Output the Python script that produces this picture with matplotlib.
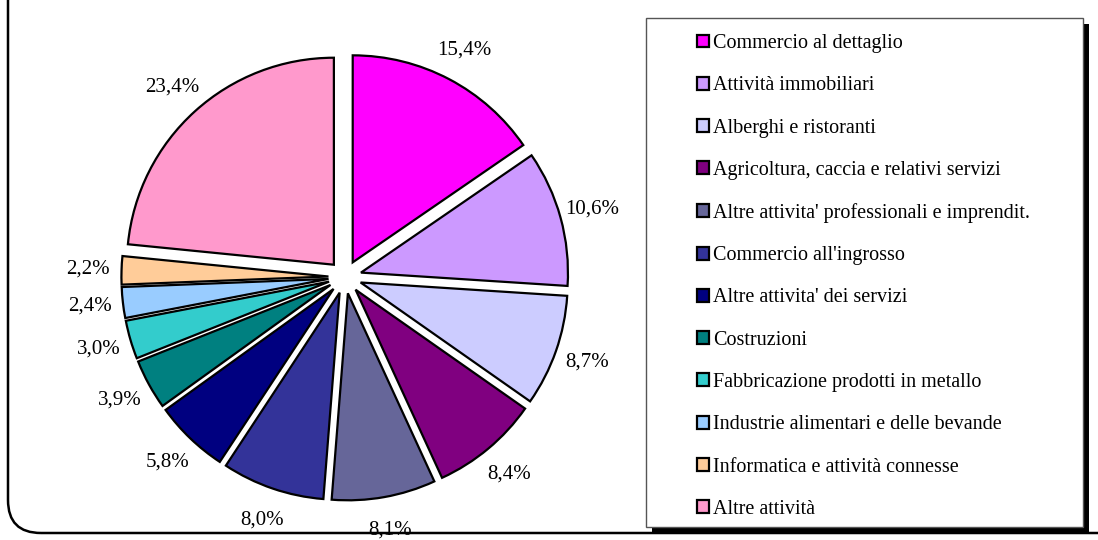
import matplotlib.pyplot as plt
from matplotlib.patches import FancyBboxPatch, Rectangle

# Quote per settore di attività economica
settori = [
    "Commercio al dettaglio",
    "Attività immobiliari",
    "Alberghi e ristoranti",
    "Agricoltura, caccia e relativi servizi",
    "Altre attivita' professionali e imprendit.",
    "Commercio all'ingrosso",
    "Altre attivita' dei servizi",
    "Costruzioni",
    "Fabbricazione prodotti in metallo",
    "Industrie alimentari e delle bevande",
    "Informatica e attività connesse",
    "Altre attività",
]
quote = [15.4, 10.6, 8.7, 8.4, 8.1, 8.0, 5.8, 3.9, 3.0, 2.4, 2.2, 23.4]
colori = ["#FF00FF", "#CC99FF", "#CCCCFF", "#800080", "#666699", "#333399",
          "#000080", "#008080", "#33CCCC", "#99CCFF", "#FFCC99", "#FF99CC"]

W, H = 1098, 540
fig = plt.figure(figsize=(W / 100, H / 100), dpi=100)
font = "Liberation Serif"

# axes over the whole figure, 1 data unit = pie radius in pixels
R = 207.0
cx, cy = 345.0, 277.0
ax = fig.add_axes([0, 0, 1, 1])

wedges, texts, autotexts = ax.pie(
    quote, colors=colori, startangle=90, counterclock=False,
    explode=[0.08] * len(quote), radius=1,
    autopct=lambda p: f"{p:.1f}%".replace(".", ","), pctdistance=1.16,
    wedgeprops=dict(edgecolor="black", linewidth=1.6),
    textprops=dict(fontfamily=font, fontsize=15, color="black"),
)
ax.set_aspect("auto")
ax.set_xlim(-cx / R, (W - cx) / R)
ax.set_ylim(-(H - cy) / R, cy / R)
ax.axis("off")

# outer rounded border (top and right run off the picture)
border = FancyBboxPatch((8 / W, 7 / H), 1.2, 1.2, boxstyle="round,pad=0,rounding_size=0.03",
                        transform=fig.transFigure, fill=False, edgecolor="black", linewidth=1.8,
                        mutation_aspect=W / H, zorder=-2)
fig.patches.append(border)

# legend box with black shadow
lx0, ly0, lx1, ly1 = 646, 18, 1083, 527
fig.patches.append(Rectangle(((lx0 + 6) / W, (H - ly1 - 6) / H), (lx1 - lx0) / W, (ly1 - ly0) / H,
                             transform=fig.transFigure, facecolor="black", edgecolor="none",
                             zorder=-2))
fig.patches.append(Rectangle((lx0 / W, (H - ly1) / H), (lx1 - lx0) / W, (ly1 - ly0) / H,
                             transform=fig.transFigure, facecolor="white", edgecolor="#555555",
                             linewidth=1.0, zorder=-1))

leg = ax.legend(wedges, settori, loc="upper left", bbox_to_anchor=(697 / W, 1 - 34 / H),
                bbox_transform=fig.transFigure, frameon=False,
                prop=dict(family=font, size=14.5), handlelength=0.6, handleheight=0.6,
                handletextpad=0.2, labelspacing=1.155, borderpad=0, borderaxespad=0)
for h in leg.legend_handles:
    h.set_linewidth(1.6)
    h.set_edgecolor("black")

fig.savefig("out.png", dpi=100)
